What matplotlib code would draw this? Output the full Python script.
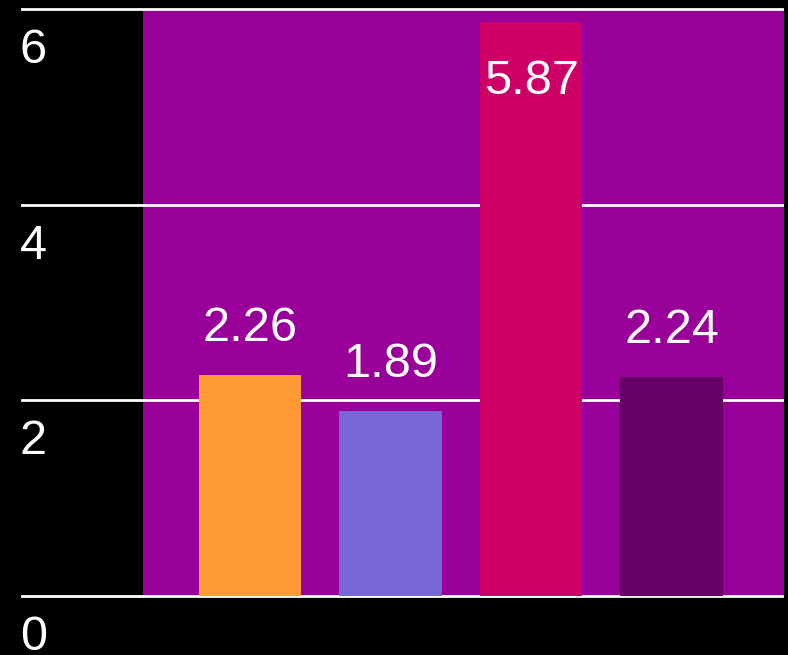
import matplotlib.pyplot as plt

categories = ["A", "B", "C", "D"]
values = [2.26, 1.89, 5.87, 2.24]
bar_colors = ["#FF9933", "#7766D6", "#CC0066", "#660066"]
y_ticks = [0, 2, 4, 6]

plt.rcParams['font.family'] = ['Liberation Sans', 'DejaVu Sans']

W, H = 788, 655
fig = plt.figure(figsize=(W / 100, H / 100), dpi=100, facecolor="black")
# plot area in pixels: x 143..784, y 9..596
ax = fig.add_axes([143 / W, (H - 596) / H, 641 / W, 587 / H])
ax.set_facecolor("#990099")
for s in ax.spines.values():
     s.set_visible(False)
ax.set_xticks([])
ax.set_yticks([])
ax.set_xlim(-0.762, 3.80)
ax.set_ylim(0, 6)

# gridlines run out to the left over the black margin
left = -(143 - 22) / 641
for t in y_ticks:
     ax.axhline(t, xmin=left, xmax=0.997, color="white", lw=2, clip_on=False, zorder=1)
     ax.annotate(str(t), xy=(20 / W, t), xycoords=("figure fraction", "data"),
                 xytext=(0, -54), textcoords="offset pixels",
                 ha="left", va="baseline", color="white", fontsize=35,
                 annotation_clip=False)

x = list(range(len(values)))
ax.bar(x, values, width=0.73, color=bar_colors, zorder=2)

for i, v in enumerate(values):
     if v > 5:
          ax.annotate(f"{v:.2f}", xy=(i, v), xytext=(0, -72), textcoords="offset pixels",
                      ha="center", va="baseline", color="white", fontsize=35, zorder=3)
     else:
          ax.annotate(f"{v:.2f}", xy=(i, v), xytext=(0, 34), textcoords="offset pixels",
                      ha="center", va="baseline", color="white", fontsize=35, zorder=3)

fig.savefig("out.png", dpi=100, facecolor="black")
